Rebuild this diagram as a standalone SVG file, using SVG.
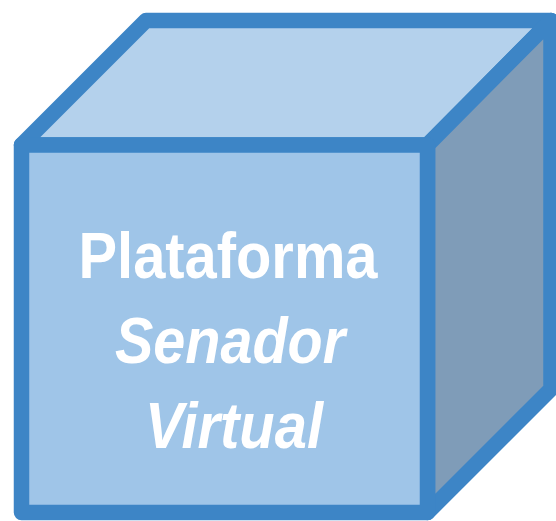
<svg xmlns="http://www.w3.org/2000/svg" width="556" height="521" viewBox="0 0 556 521">
<style>
.face{stroke:#3d85c6;stroke-width:15.5;stroke-linejoin:round}
.lbl{font-family:"Liberation Sans Narrow","Liberation Sans",sans-serif;font-weight:bold;font-size:64px;fill:#ffffff;text-anchor:middle}
</style>
<g id="cube">
<polygon class="face" fill="#b4d1ec" points="21.5,145 146,20.5 551,20.5 427.5,145"/>
<polygon class="face" fill="#7f9cb8" points="427.5,145 551,20.5 551,389 427.5,512.5"/>
<rect class="face" fill="#9fc5e8" x="21.5" y="145" width="406" height="367.5"/>
<text class="lbl" x="228" y="278" textLength="299" lengthAdjust="spacingAndGlyphs">Plataforma</text>
<text class="lbl" x="230" y="363" font-style="italic" textLength="230" lengthAdjust="spacingAndGlyphs">Senador</text>
<text class="lbl" x="234" y="448" font-style="italic" textLength="178" lengthAdjust="spacingAndGlyphs">Virtual</text>
</g>
</svg>
